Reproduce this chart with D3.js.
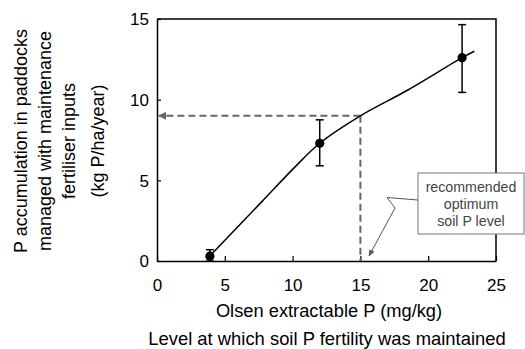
<!DOCTYPE html>
<html>
<head>
<meta charset="utf-8">
<script src="https://cdn.jsdelivr.net/npm/d3@7"></script>
<style>
  body { margin: 0; background: #fff; }
  svg { display: block; font-family: "Liberation Sans", Arial, sans-serif; }
</style>
</head>
<body>
<div class="viz"></div>
<script>
//////////////////////////
// Data
//////////////////////////

// measured points
var xValues = [3.9, 12, 22.5];
var yValues = [0.3, 7.3, 12.6];
var errLow = [0.0, 5.9, 10.45];
var errHigh = [0.7, 8.75, 14.65];

// fitted curve
var curveX = [4.0, 7.7, 10.2, 12, 15, 18.5, 22.5, 23.4];
var curveY = [0.4, 3.65, 5.85, 7.3, 9.0, 10.6, 12.6, 13.0];

// recommended optimum
var optimum = [15, 9];

var xTicks = [0, 5, 10, 15, 20, 25];
var yTicks = [0, 5, 10, 15];

var yLabelLines = ['P accumulation in paddocks', 'managed with maintenance', 'fertiliser inputs', '(kg P/ha/year)'];
var noteLines = ['recommended', 'optimum', 'soil P level'];

//////////////////////////
// D3 Stuff
//////////////////////////

var W = 525, H = 349;
var plot = { left: 157, right: 496, top: 19, bottom: 261 };

var svg = d3.select('div.viz')
    .append('svg')
    .attr('width', W)
    .attr('height', H);

var xScale = d3.scaleLinear().domain([0, 25]).range([plot.left, plot.right]);
var yScale = d3.scaleLinear().domain([0, 15]).range([plot.bottom, plot.top]);

var defs = svg.append('defs');
defs.append('marker')
    .attr('id', 'arrowDash')
    .attr('viewBox', '0 0 10 10')
    .attr('refX', 9).attr('refY', 5)
    .attr('markerWidth', 4).attr('markerHeight', 4)
    .attr('orient', 'auto')
    .append('path')
    .attr('d', 'M0,0 L10,5 L0,10 z')
    .attr('fill', '#666');
defs.append('marker')
    .attr('id', 'arrowThin')
    .attr('viewBox', '0 0 10 10')
    .attr('refX', 9).attr('refY', 5)
    .attr('markerWidth', 7).attr('markerHeight', 7)
    .attr('markerUnits', 'userSpaceOnUse')
    .attr('orient', 'auto')
    .append('path')
    .attr('d', 'M0,1 L10,5 L0,9 z')
    .attr('fill', '#555');

// frame (top and right)
svg.append('path')
    .attr('d', 'M' + plot.left + ',' + plot.top + 'H' + plot.right + 'V' + plot.bottom)
    .attr('fill', 'none')
    .attr('stroke', '#000')
    .attr('stroke-width', 1.5);

// axes
var xAxis = svg.append('g')
    .attr('transform', 'translate(0,' + plot.bottom + ')')
    .call(d3.axisBottom(xScale).tickValues(xTicks).tickSizeInner(-5).tickSizeOuter(0));
var yAxis = svg.append('g')
    .attr('transform', 'translate(' + plot.left + ',0)')
    .call(d3.axisLeft(yScale).tickValues(yTicks).tickSizeInner(-4).tickSizeOuter(0));

[xAxis, yAxis].forEach(function(ax) {
    ax.select('.domain').attr('stroke', '#000').attr('stroke-width', 1.5);
    ax.selectAll('.tick line').attr('stroke', '#000').attr('stroke-width', 1.2);
    ax.selectAll('.tick text')
        .attr('font-family', '"Liberation Sans", Arial, sans-serif')
        .attr('font-size', 17)
        .attr('fill', '#000');
});
xAxis.selectAll('.tick text').attr('y', 24).attr('dy', '0.35em');
yAxis.selectAll('.tick text').attr('x', -8).attr('dy', '0.35em');

// dashed guide lines
svg.append('line')
    .attr('x1', xScale(optimum[0])).attr('y1', yScale(optimum[1]))
    .attr('x2', xScale(0) + 2).attr('y2', yScale(optimum[1]))
    .attr('stroke', '#666').attr('stroke-width', 2)
    .attr('stroke-dasharray', '7,4')
    .attr('marker-end', 'url(#arrowDash)');
svg.append('line')
    .attr('x1', xScale(optimum[0])).attr('y1', yScale(optimum[1]))
    .attr('x2', xScale(optimum[0])).attr('y2', yScale(0))
    .attr('stroke', '#666').attr('stroke-width', 2)
    .attr('stroke-dasharray', '7,4');

// curve
var line = d3.line()
    .x(function(d) { return xScale(d[0]); })
    .y(function(d) { return yScale(d[1]); })
    .curve(d3.curveCatmullRom.alpha(0.5));
svg.append('path')
    .datum(d3.zip(curveX, curveY))
    .attr('d', line)
    .attr('fill', 'none')
    .attr('stroke', '#000')
    .attr('stroke-width', 1.5);

// error bars
var pts = xValues.map(function(x, i) {
    return { x: x, y: yValues[i], lo: errLow[i], hi: errHigh[i] };
});
var eb = svg.append('g').selectAll('g').data(pts).enter().append('g')
    .attr('stroke', '#000').attr('stroke-width', 1.5);
eb.append('line')
    .attr('x1', function(d) { return xScale(d.x); })
    .attr('x2', function(d) { return xScale(d.x); })
    .attr('y1', function(d) { return yScale(d.lo); })
    .attr('y2', function(d) { return yScale(d.hi); });
eb.append('line')
    .attr('x1', function(d) { return xScale(d.x) - 4; })
    .attr('x2', function(d) { return xScale(d.x) + 4; })
    .attr('y1', function(d) { return yScale(d.lo); })
    .attr('y2', function(d) { return yScale(d.lo); });
eb.append('line')
    .attr('x1', function(d) { return xScale(d.x) - 4; })
    .attr('x2', function(d) { return xScale(d.x) + 4; })
    .attr('y1', function(d) { return yScale(d.hi); })
    .attr('y2', function(d) { return yScale(d.hi); });

svg.append('g').selectAll('circle').data(pts).enter().append('circle')
    .attr('cx', function(d) { return xScale(d.x); })
    .attr('cy', function(d) { return yScale(d.y); })
    .attr('r', 4.6)
    .attr('fill', '#000');

// callout
svg.append('polyline')
    .attr('points', [[418, 200], [387, 197.5], [395, 208], [369, 256]].join(' '))
    .attr('fill', 'none')
    .attr('stroke', '#555')
    .attr('stroke-width', 1)
    .attr('marker-end', 'url(#arrowThin)');

svg.append('rect')
    .attr('x', 418).attr('y', 173)
    .attr('width', 106).attr('height', 61)
    .attr('fill', '#fff')
    .attr('stroke', '#777')
    .attr('stroke-width', 1);
svg.append('g').selectAll('text').data(noteLines).enter().append('text')
    .attr('x', 471)
    .attr('y', function(d, i) { return 187 + i * 17; })
    .attr('dy', '0.35em')
    .attr('text-anchor', 'middle')
    .attr('font-size', 14.2)
    .attr('fill', '#444')
    .text(function(d) { return d; });

// axis titles
var yLabelX = [21, 45, 69, 98];
svg.append('g').selectAll('text').data(yLabelLines).enter().append('text')
    .attr('transform', function(d, i) { return 'translate(' + yLabelX[i] + ',141) rotate(-90)'; })
    .attr('dy', '0.35em')
    .attr('text-anchor', 'middle')
    .attr('font-size', 18)
    .attr('fill', '#000')
    .text(function(d) { return d; });

svg.append('text')
    .attr('x', 329).attr('y', 311)
    .attr('dy', '0.35em')
    .attr('text-anchor', 'middle')
    .attr('font-size', 18.3)
    .text('Olsen extractable P (mg/kg)');

svg.append('text')
    .attr('x', 327).attr('y', 339)
    .attr('dy', '0.35em')
    .attr('text-anchor', 'middle')
    .attr('font-size', 18.4)
    .text('Level at which soil P fertility was maintained');
</script>
</body>
</html>
